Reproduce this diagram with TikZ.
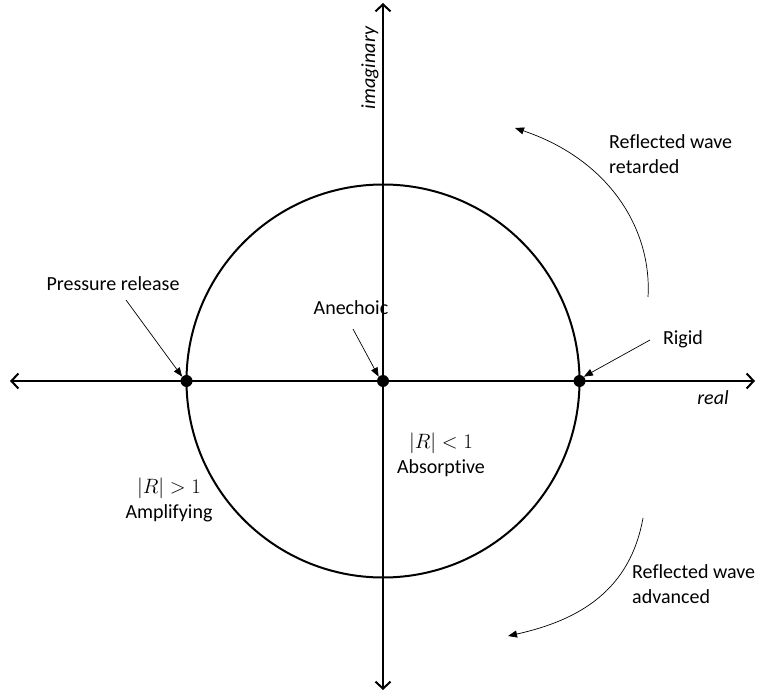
\documentclass[tikz,border=0pt]{standalone}
\usepackage{fontspec}
\setmainfont{Carlito}[Ligatures=NoCommon]
\usetikzlibrary{arrows.meta}
\begin{document}
\begin{tikzpicture}[x=1pt,y=-1pt,
  axis/.style={line width=2pt,{Straight Barb[length=7pt,width=15pt,line width=2pt]}-{Straight Barb[length=7pt,width=15pt,line width=2pt]}},
  ring/.style={line width=2pt},
  dot/.style={circle,fill=black,inner sep=0pt,minimum size=12pt},
  pointer/.style={line width=0.7pt,-{Triangle[length=9pt,width=7pt]}},
  lbl/.style={font=\fontsize{20}{25}\selectfont,inner sep=0pt,align=center},
  lbll/.style={font=\fontsize{20}{25}\selectfont,inner sep=0pt,align=left},
  ital/.style={font=\fontsize{20}{22}\selectfont\itshape,inner sep=0pt}]
\useasboundingbox (0,0) rectangle (757,692);
\coordinate (W) at (10,381);
\coordinate (E) at (755,381);
\coordinate (N) at (383,3);
\coordinate (S) at (383,690);
\draw[axis] (W) -- (E);
\draw[axis] (S) -- (N);
\draw[ring] (383,381) circle (196.5);
\node[dot] (pr) at (186.5,381) {};
\node[dot] (an) at (383,381) {};
\node[dot] (ri) at (579.5,381) {};
\node[lbl] (prl) at (113,284) {Pressure release};
\node[lbl] (anl) at (351,308) {Anechoic};
\node[lbl] (ril) at (683,339) {Rigid};
\node[ital] (re) at (713,398) {real};
\node[ital,rotate=90] (im) at (370,68) {imaginary};
\coordinate (prs) at (126,300);
\coordinate (ans) at (353,329);
\coordinate (ris) at (650,340);
\draw[pointer] (prs) -- (pr.north west);
\draw[pointer] (ans) -- (an.north west);
\draw[pointer] (ris) -- (ri.north east);
\node[lbll,anchor=west] (ret) at (609,154) {Reflected wave\\retarded};
\node[lbll,anchor=west] (adv) at (632,584) {Reflected wave\\advanced};
\coordinate (r1) at (648,297);
\coordinate (r2) at (515,128);
\coordinate (a1) at (643,518);
\coordinate (a2) at (508,636);
\draw[pointer] (r1) .. controls (652,230) and (610,160) .. (r2);
\draw[pointer] (a1) .. controls (630,590) and (580,620) .. (a2);
\node[lbl] (abs) at (441,455) {$|R|<1$\\Absorptive};
\node[lbl] (amp) at (169,500) {$|R|>1$\\Amplifying};
\end{tikzpicture}
\end{document}
